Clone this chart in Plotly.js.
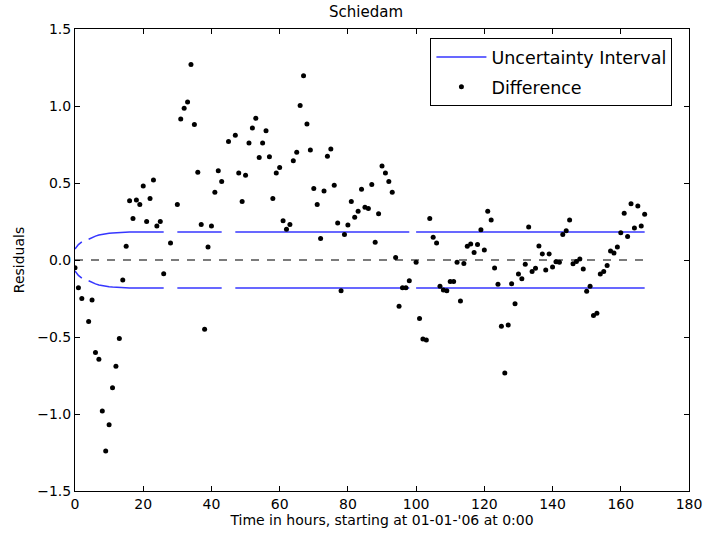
<!DOCTYPE html>
<html>
<head>
<meta charset="utf-8">
<script src="https://cdn.plot.ly/plotly-3.0.1.min.js"></script>
<style>html,body{margin:0;padding:0;background:#fff;}#chart{width:706px;height:534px;}</style>
</head>
<body>
<div id="chart"></div>
<script>
// Hours since 01-01-'06 0:00
const hours = [
  0,1,2,3,4,5,6,7,8,9,10,11,12,13,14,15,16,17,18,19,
  20,21,22,23,24,25,26,27,28,29,30,31,32,33,34,35,36,37,38,39,
  40,41,42,43,44,45,46,47,48,49,50,51,52,53,54,55,56,57,58,59,
  60,61,62,63,64,65,66,67,68,69,70,71,72,73,74,75,76,77,78,79,
  80,81,82,83,84,85,86,87,88,89,90,91,92,93,94,95,96,97,98,99,
  100,101,102,103,104,105,106,107,108,109,110,111,112,113,114,115,116,117,118,119,
  120,121,122,123,124,125,126,127,128,129,130,131,132,133,134,135,136,137,138,139,
  140,141,142,143,144,145,146,147,148,149,150,151,152,153,154,155,156,157,158,159,
  160,161,162,163,164,165,166,167
];

// Residuals (difference), null = missing hour
const difference = [
  -0.05,-0.18,-0.25,null,-0.40,-0.26,-0.60,-0.645,-0.98,-1.24,
  -1.07,-0.83,-0.69,-0.51,-0.13,0.09,0.385,0.27,0.39,0.36,
  0.48,0.25,0.40,0.52,0.22,0.25,-0.09,null,0.11,null,
  0.36,0.915,0.985,1.026,1.27,0.88,0.57,0.23,-0.45,0.085,
  0.22,0.44,0.58,0.51,null,0.77,null,0.81,0.565,0.38,
  0.55,0.76,0.857,0.92,0.665,0.76,0.84,0.67,0.40,0.565,
  0.60,0.255,0.20,0.23,0.645,0.70,1.004,1.197,0.883,0.714,
  0.465,0.36,0.14,0.448,0.673,0.72,0.485,0.24,-0.20,0.165,
  0.227,0.38,0.277,0.316,0.459,0.342,0.335,0.49,0.115,0.30,
  0.61,0.565,0.51,0.44,0.017,-0.30,-0.18,-0.18,-0.134,null,
  -0.015,-0.38,-0.513,-0.52,0.27,0.147,0.11,-0.17,-0.195,-0.20,
  -0.14,-0.14,-0.015,-0.266,-0.022,0.089,0.104,0.048,0.10,0.197,
  0.065,0.316,0.26,-0.052,-0.158,-0.43,-0.734,-0.422,-0.154,-0.284,
  -0.091,-0.121,-0.028,0.214,-0.074,-0.054,0.091,0.039,-0.065,0.039,
  -0.045,-0.011,-0.015,0.165,0.19,0.26,-0.024,-0.009,0.006,-0.058,
  -0.203,-0.171,-0.36,-0.346,-0.091,-0.074,-0.035,0.058,0.045,0.084,
  0.177,0.303,0.152,0.366,0.208,0.35,0.22,0.297
];

// Half-width of the uncertainty interval, null = missing hour
const uncertainty = [
  0.071,0.100,0.118,null,0.135,0.147,0.155,0.162,0.167,0.171,
  0.174,0.176,0.178,0.179,0.180,0.181,0.182,0.182,0.182,0.182,
  0.182,0.182,0.182,0.182,0.182,0.182,0.182,null,0.182,null,
  0.182,0.182,0.182,0.182,0.182,0.182,0.182,0.182,0.182,0.182,
  0.182,0.182,0.182,0.182,null,0.182,null,0.182,0.182,0.182,
  0.182,0.182,0.182,0.182,0.182,0.182,0.182,0.182,0.182,0.182,
  0.182,0.182,0.182,0.182,0.182,0.182,0.182,0.182,0.182,0.182,
  0.182,0.182,0.182,0.182,0.182,0.182,0.182,0.182,0.182,0.182,
  0.182,0.182,0.182,0.182,0.182,0.182,0.182,0.182,0.182,0.182,
  0.182,0.182,0.182,0.182,0.182,0.182,0.182,0.182,0.182,null,
  0.182,0.182,0.182,0.182,0.182,0.182,0.182,0.182,0.182,0.182,
  0.182,0.182,0.182,0.182,0.182,0.182,0.182,0.182,0.182,0.182,
  0.182,0.182,0.182,0.182,0.182,0.182,0.182,0.182,0.182,0.182,
  0.182,0.182,0.182,0.182,0.182,0.182,0.182,0.182,0.182,0.182,
  0.182,0.182,0.182,0.182,0.182,0.182,0.182,0.182,0.182,0.182,
  0.182,0.182,0.182,0.182,0.182,0.182,0.182,0.182,0.182,0.182,
  0.182,0.182,0.182,0.182,0.182,0.182,0.182,0.182
];
const lowerUncertainty = uncertainty.map(v => v === null ? null : -v);

const xTicks = [0,20,40,60,80,100,120,140,160,180];
const yTicks = [-1.5,-1.0,-0.5,0.0,0.5,1.0,1.5];
const yTickText = ['\u22121.5','\u22121.0','\u22120.5','0.0','0.5','1.0','1.5'];

const FONT = 'DejaVu Sans, sans-serif';
const BLUE = '#3636ff';

const traces = [
  {
    x: hours, y: uncertainty, type: 'scatter', mode: 'lines',
    name: 'Uncertainty Interval', legendgroup: 'u',
    line: {color: BLUE, width: 1.5}, connectgaps: false
  },
  {
    x: hours, y: lowerUncertainty, type: 'scatter', mode: 'lines',
    name: 'Uncertainty Interval', legendgroup: 'u', showlegend: false,
    line: {color: BLUE, width: 1.5}, connectgaps: false
  },
  {
    x: [hours[0], hours[hours.length - 1]], y: [0, 0], type: 'scatter', mode: 'lines',
    showlegend: false, line: {color: '#505050', width: 1.6, dash: '8px,8px'}
  },
  {
    x: hours, y: difference, type: 'scatter', mode: 'markers',
    name: 'Difference',
    marker: {color: '#000000', size: 5}
  }
];

const axisCommon = {
  showgrid: false, zeroline: false, showline: true, mirror: 'ticks',
  linecolor: '#000', linewidth: 1, ticks: 'inside', ticklen: 5, tickwidth: 1,
  tickcolor: '#000', tickfont: {family: FONT, size: 14, color: '#000'}
};

const layout = {
  width: 706, height: 534,
  margin: {l: 75, r: 17, t: 29, b: 43},
  paper_bgcolor: '#fff', plot_bgcolor: '#fff',
  font: {family: FONT, color: '#000'},
  title: {text: 'Schiedam', font: {family: FONT, size: 15, color: '#000'}, xref: 'paper', x: 0.474, xanchor: 'center', y: 0.988, yanchor: 'top'},
  xaxis: Object.assign({}, axisCommon, {
    range: [0, 180], tickvals: xTicks, ticktext: xTicks.map(String),
    title: {text: "Time in hours, starting at 01-01-'06 at 0:00", font: {family: FONT, size: 14, color: '#000'}, standoff: 2}
  }),
  yaxis: Object.assign({}, axisCommon, {
    range: [-1.5, 1.5], tickvals: yTicks, ticktext: yTickText,
    title: {text: 'Residuals', font: {family: FONT, size: 14, color: '#000'}, standoff: 9}
  }),
  legend: {
    x: 0.973, xanchor: 'right', y: 0.98, yanchor: 'top',
    bgcolor: '#fff', bordercolor: '#000', borderwidth: 1,
    font: {family: FONT, size: 17.5, color: '#000'},
    itemwidth: 50, tracegroupgap: 4
  },
  showlegend: true
};

Plotly.newPlot('chart', traces, layout, {displayModeBar: false, staticPlot: true});
</script>
</body>
</html>
